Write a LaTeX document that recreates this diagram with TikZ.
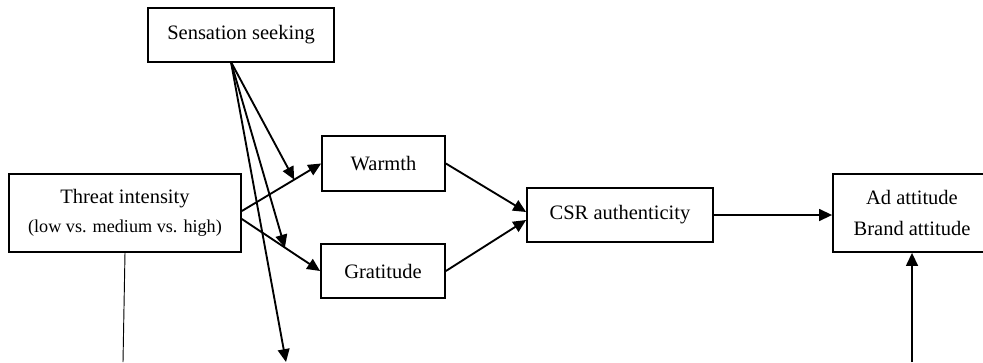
\documentclass[tikz,border=0pt]{standalone}
\usepackage{fontspec}
\setmainfont{Liberation Serif}
\usetikzlibrary{arrows.meta,positioning,calc}

\begin{document}
\begin{tikzpicture}[
    x=0.03cm, y=-0.03cm,
    box/.style={draw, line width=1.5pt, align=center, inner sep=0pt, font=\fontsize{17.5}{21}\selectfont},
    link/.style={line width=1.6pt, -{Triangle[length=11pt,width=10pt]}},
    plain/.style={line width=0.8pt}
]
\useasboundingbox (0,0) rectangle (983,362);
\node[box, minimum width=5.58cm, minimum height=1.62cm] (sens) at (241,35) {Sensation seeking};
\node[box, minimum width=6.96cm, minimum height=2.34cm] (threat) at (125,213) {Threat intensity\\[4pt]{\fontsize{15.5}{18}\selectfont (low vs. medium vs. high)}};
\node[box, minimum width=3.69cm, minimum height=1.65cm] (warmth) at (383.5,163.5) {Warmth};
\node[box, minimum width=3.72cm, minimum height=1.62cm] (grat) at (383,271) {Gratitude};
\node[box, minimum width=5.58cm, minimum height=1.62cm] (csr) at (620,215) {CSR authenticity};
\node[box, minimum width=4.74cm, minimum height=2.34cm] (ad) at (912,213) {Ad attitude\\[6pt]Brand attitude};

\coordinate (fork) at (231,62);
\coordinate (tbot) at (123,362);
\coordinate (mbot) at (286,362);
\coordinate (abot) at (912,362);

\draw[link] ($(threat.east)+(0,-2)$) -- (warmth.west);
\draw[link] ($(threat.east)+(0,6)$) -- (grat.west);
\draw[link] (warmth.east) -- ($(csr.west)+(0,-3)$);
\draw[link] (grat.east) -- ($(csr.west)+(0,5)$);
\draw[link] (csr.east) -- (csr.east -| ad.west);
\draw[link] (fork) -- ($($(threat.east)+(0,-2)$)!0.66!(warmth.west)$);
\draw[link] (fork) -- ($($(threat.east)+(0,6)$)!0.55!(grat.west)$);
\draw[link] (fork) -- (mbot);
\draw[plain] (threat.south) -- (tbot);
\draw[link] (abot) -- (ad.south);
\end{tikzpicture}
\end{document}
